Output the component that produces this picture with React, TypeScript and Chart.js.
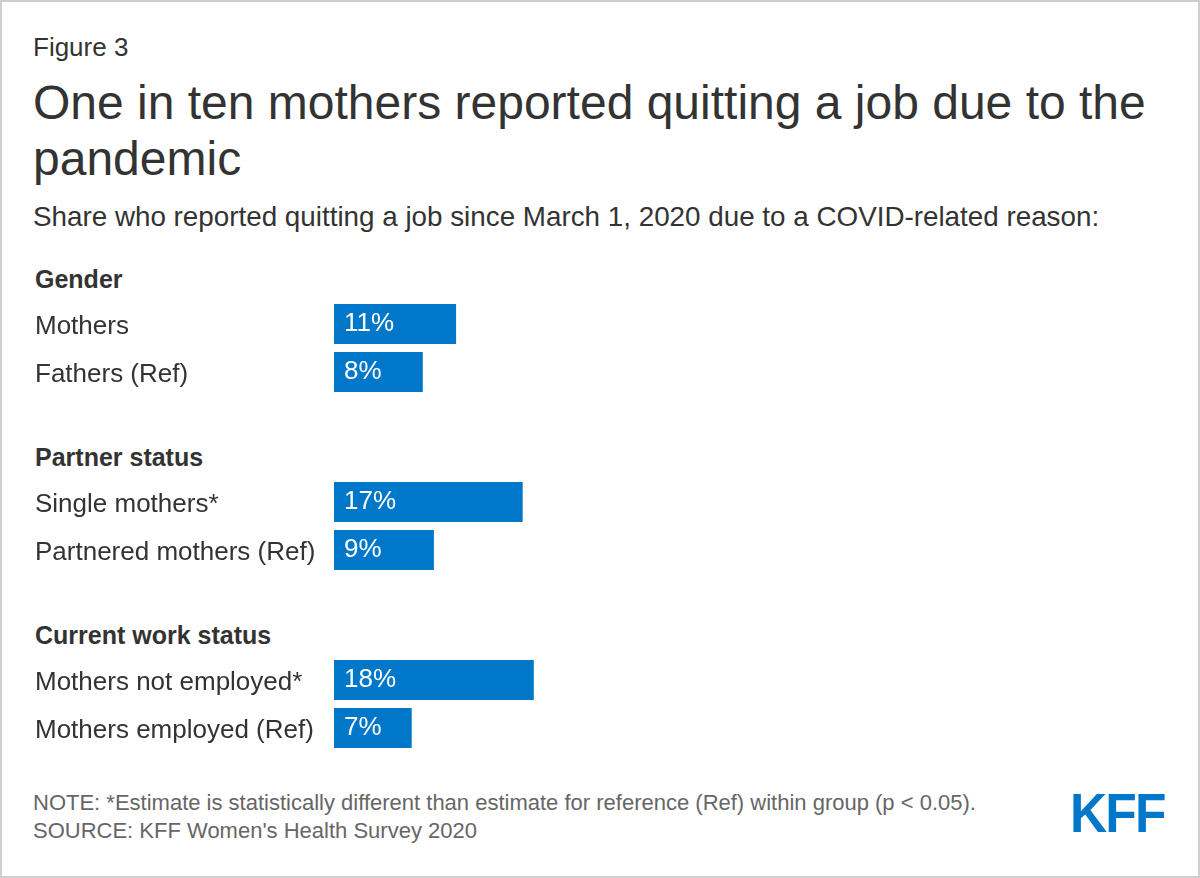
import React, { useEffect, useRef } from "react";
import { Chart, registerables } from "chart.js";

Chart.register(...registerables);

const groupTitles = ["Gender", "Partner status", "Current work status"];
const genderLabels = ["Mothers", "Fathers (Ref)"];
const genderValues = [11, 8];
const partnerLabels = ["Single mothers*", "Partnered mothers (Ref)"];
const partnerValues = [17, 9];
const workLabels = ["Mothers not employed*", "Mothers employed (Ref)"];
const workValues = [18, 7];

const FONT = '"Liberation Sans", Arial, Helvetica, sans-serif';
const BLUE = "#0077c8";
const TEXT = "#333333";

const barLabels = {
  id: "barLabels",
  afterDatasetsDraw(chart: any) {
    const ctx = chart.ctx;
    const meta = chart.getDatasetMeta(0);
    const data = chart.data.datasets[0].data;
    ctx.save();
    ctx.fillStyle = "#ffffff";
    ctx.font = `26px ${FONT}`;
    ctx.textBaseline = "middle";
    ctx.textAlign = "left";
    meta.data.forEach((bar: any, i: number) => {
      ctx.fillText(`${data[i]}%`, bar.base + 10, bar.y);
    });
    ctx.restore();
  },
};

function GroupChart({ labels, values, top }: { labels: string[]; values: number[]; top: number }) {
  const ref = useRef<HTMLCanvasElement | null>(null);
  useEffect(() => {
    if (!ref.current) return;
    const chart = new Chart(ref.current, {
      type: "bar",
      data: {
        labels,
        datasets: [
          {
            data: values,
            backgroundColor: BLUE,
            borderWidth: 0,
            barPercentage: 40 / 48,
            categoryPercentage: 1,
          },
        ],
      },
      options: {
        indexAxis: "y",
        responsive: false,
        maintainAspectRatio: false,
        animation: false,
        layout: { padding: { left: 2, top: 0, right: 0, bottom: 0 } },
        plugins: { legend: { display: false }, tooltip: { enabled: false } },
        scales: {
          x: { display: false, min: 0, max: 40 },
          y: {
            grid: { display: false },
            border: { display: false },
            ticks: {
              crossAlign: "far",
              color: TEXT,
              padding: 0,
              labelOffset: 3,
              font: { family: FONT, size: 26 },
            },
            afterFit: (s: any) => {
              s.width = 299;
              s.paddingTop = 0;
              s.paddingBottom = 0;
            },
          },
        },
      },
      plugins: [barLabels],
    } as any);
    return () => chart.destroy();
  }, []);
  return (
    <canvas
      ref={ref}
      width={745}
      height={96}
      style={{ position: "absolute", left: 31, top, width: 745, height: 96 }}
    />
  );
}

const headerStyle: React.CSSProperties = {
  position: "absolute",
  left: 33,
  fontFamily: FONT,
  fontWeight: "bold",
  fontSize: 25,
  lineHeight: "25px",
  color: TEXT,
  whiteSpace: "nowrap",
};

export default function App() {
  return (
    <div
      style={{
        position: "absolute",
        left: 0,
        top: 0,
        width: 1200,
        height: 878,
        boxSizing: "border-box",
        border: "2px solid #cfcfcf",
        background: "#ffffff",
        overflow: "hidden",
        fontFamily: FONT,
      }}
    >
      <div style={{ position: "absolute", left: 31, top: 32, fontSize: 26, lineHeight: "26px", color: TEXT }}>
        Figure 3
      </div>
      <div
        style={{
          position: "absolute",
          left: 31,
          top: 73,
          width: 1150,
          fontSize: 48,
          lineHeight: "56px",
          color: TEXT,
        }}
      >
        One in ten mothers reported quitting a job due to the pandemic
      </div>
      <div
        style={{ position: "absolute", left: 31, top: 201, fontSize: 27.8, lineHeight: "28px", color: TEXT, whiteSpace: "nowrap" }}
      >
        Share who reported quitting a job since March 1, 2020 due to a COVID-related reason:
      </div>

      <div style={{ ...headerStyle, top: 265 }}>{groupTitles[0]}</div>
      <GroupChart labels={genderLabels} values={genderValues} top={298} />
      <div style={{ ...headerStyle, top: 443 }}>{groupTitles[1]}</div>
      <GroupChart labels={partnerLabels} values={partnerValues} top={476} />
      <div style={{ ...headerStyle, top: 621 }}>{groupTitles[2]}</div>
      <GroupChart labels={workLabels} values={workValues} top={654} />

      <div
        style={{ position: "absolute", left: 31, top: 787, fontSize: 22, lineHeight: "28px", color: "#666666", whiteSpace: "nowrap" }}
      >
        <div>NOTE: *Estimate is statistically different than estimate for reference (Ref) within group (p &lt; 0.05).</div>
        <div>SOURCE: KFF Women's Health Survey 2020</div>
      </div>

      <div
        style={{
          position: "absolute",
          left: 1068,
          top: 783,
          fontSize: 56,
          lineHeight: "56px",
          fontWeight: 900,
          color: BLUE,
          letterSpacing: -2,
          transform: "scaleX(0.92)",
          transformOrigin: "left top",
        }}
      >
        KFF
      </div>
    </div>
  );
}
